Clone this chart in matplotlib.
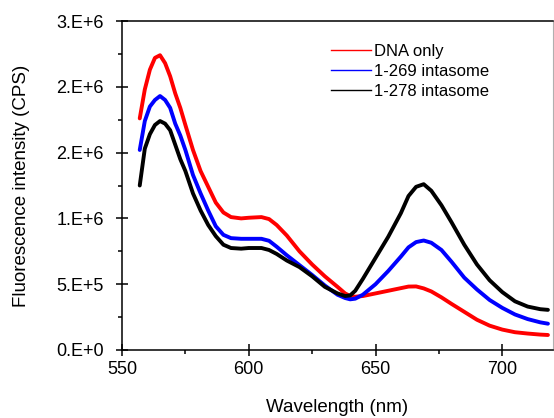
import numpy as np
import matplotlib
matplotlib.use("Agg")
import matplotlib.pyplot as plt
from matplotlib.lines import Line2D
from matplotlib.ticker import MultipleLocator

plt.rcParams['font.family'] = ['Liberation Sans', 'DejaVu Sans']

# wavelength grid (nm) and intensities (x1e6 CPS)
wavelength = [557, 559, 561, 563, 565, 567, 569, 571, 573, 575,
              578, 581, 584, 587, 590, 593, 597, 600, 605, 608,
              611, 615, 620, 625, 630, 635, 638, 640, 642, 645,
              650, 655, 660, 663, 666, 669, 672, 676, 680, 685,
              690, 695, 700, 705, 710, 715, 718]

dna_only = [1.76, 1.98, 2.13, 2.22, 2.24, 2.18, 2.08, 1.95, 1.84, 1.71,
            1.52, 1.36, 1.24, 1.12, 1.045, 1.01, 1.0, 1.005, 1.01, 0.995,
            0.95, 0.87, 0.75, 0.65, 0.56, 0.48, 0.43, 0.41, 0.405, 0.41,
            0.43, 0.45, 0.47, 0.482, 0.483, 0.468, 0.445, 0.40, 0.35, 0.29,
            0.23, 0.185, 0.155, 0.135, 0.125, 0.117, 0.114]

intasome_269 = [1.52, 1.74, 1.85, 1.90, 1.93, 1.90, 1.84, 1.72, 1.63, 1.52,
                1.33, 1.19, 1.06, 0.94, 0.875, 0.85, 0.845, 0.845, 0.845, 0.83,
                0.785, 0.72, 0.645, 0.57, 0.49, 0.42, 0.395, 0.385, 0.39, 0.42,
                0.50, 0.60, 0.71, 0.78, 0.82, 0.832, 0.815, 0.76, 0.67, 0.55,
                0.46, 0.38, 0.32, 0.27, 0.235, 0.21, 0.20]

intasome_278 = [1.25, 1.53, 1.64, 1.71, 1.74, 1.72, 1.67, 1.56, 1.45, 1.36,
                1.19, 1.06, 0.95, 0.865, 0.80, 0.775, 0.77, 0.775, 0.775, 0.76,
                0.73, 0.68, 0.63, 0.56, 0.48, 0.43, 0.41, 0.415, 0.45, 0.54,
                0.70, 0.86, 1.04, 1.17, 1.24, 1.26, 1.21, 1.10, 0.97, 0.80,
                0.65, 0.53, 0.44, 0.37, 0.33, 0.31, 0.305]

labels = ['DNA only', '1-269 intasome', '1-278 intasome']
colors = ['#ff0000', '#0000ff', '#000000']

xticks = [550, 600, 650, 700]
yticks = [0, 0.5e6, 1.0e6, 1.5e6, 2.0e6, 2.5e6]
ytick_labels = ['0.E+0', '5.E+5', '1.E+6', '2.E+6', '2.E+6', '3.E+6']

fig = plt.figure(figsize=(5.54, 4.18), dpi=100)
ax = fig.add_axes([0.2202, 0.1627, 0.778, 0.787])

wl = np.array(wavelength)
for ys, c in zip([dna_only, intasome_269, intasome_278], colors):
    ax.plot(wl, np.array(ys) * 1e6, color=c, lw=2.8,
            solid_capstyle='round', solid_joinstyle='round')

ax.set_xlim(550, 720)
ax.set_ylim(0, 2.5e6)
ax.set_xticks(xticks)
ax.set_yticks(yticks)
ax.set_yticklabels(ytick_labels)
ax.xaxis.set_minor_locator(MultipleLocator(25))
ax.yaxis.set_minor_locator(MultipleLocator(0.25e6))

ax.tick_params(which='major', direction='inout', length=8, width=1.1, labelsize=13)
ax.tick_params(axis='x', which='major', pad=4)
ax.tick_params(axis='y', which='major', pad=9)
ax.tick_params(which='minor', direction='out', length=3, width=1.1)

for s in ['left', 'bottom', 'top']:
    ax.spines[s].set_linewidth(1.1)
ax.spines['right'].set_color('#b0b0b0')
ax.spines['right'].set_linewidth(0.8)

ax.set_xlabel('Wavelength (nm)', fontsize=13.5, labelpad=15)
ax.set_ylabel('Fluorescence intensity (CPS)', fontsize=13.5, labelpad=19)

handles = [Line2D([0], [0], color=c, lw=1.0) for c in colors]
ax.legend(handles, labels, loc='upper left', bbox_to_anchor=(0.47, 0.95), frameon=False,
          fontsize=12, handlelength=2.4, handletextpad=0.15, labelspacing=0.3,
          borderaxespad=0)

fig.savefig('out.png', dpi=100)
